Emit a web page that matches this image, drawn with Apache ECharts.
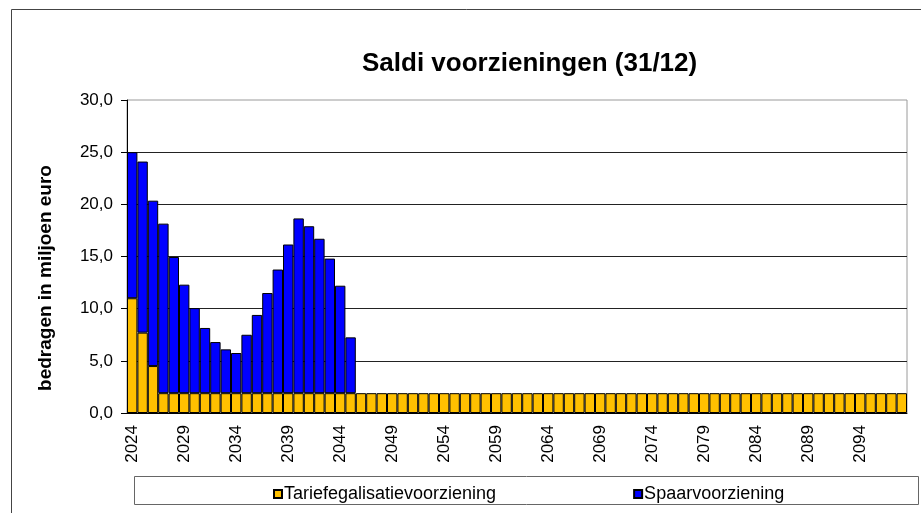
<!DOCTYPE html>
<html>
<head>
<meta charset="utf-8">
<title>Saldi voorzieningen</title>
<script src="https://cdn.jsdelivr.net/npm/echarts@6/dist/echarts.min.js"></script>
<style>
  html, body { margin: 0; padding: 0; background: #fff; }
  #chart { width: 921px; height: 513px; }
</style>
</head>
<body>
<div id="chart"></div>
<script>
// jaren 2024 t/m 2098
var years = [];
for (var y = 2024; y <= 2098; y++) years.push(String(y));

// saldo tariefegalisatievoorziening (mln euro)
var tariefegalisatie = [
  11.0, 7.7, 4.5, 1.9, 1.9, 1.9, 1.9, 1.9, 1.9, 1.9,
  1.9, 1.9, 1.9, 1.9, 1.9, 1.9, 1.9, 1.9, 1.9, 1.9,
  1.9, 1.9, 1.9, 1.9, 1.9, 1.9, 1.9, 1.9, 1.9, 1.9,
  1.9, 1.9, 1.9, 1.9, 1.9, 1.9, 1.9, 1.9, 1.9, 1.9,
  1.9, 1.9, 1.9, 1.9, 1.9, 1.9, 1.9, 1.9, 1.9, 1.9,
  1.9, 1.9, 1.9, 1.9, 1.9, 1.9, 1.9, 1.9, 1.9, 1.9,
  1.9, 1.9, 1.9, 1.9, 1.9, 1.9, 1.9, 1.9, 1.9, 1.9,
  1.9, 1.9, 1.9, 1.9, 1.9
];

// saldo spaarvoorziening (mln euro), loopt tot en met 2045
var spaar = [
  14.0, 16.4, 15.85, 16.25, 13.05, 10.4, 8.15, 6.25, 4.9, 4.2,
  3.85, 5.6, 7.5, 9.6, 11.85, 14.25, 16.75, 16.0, 14.8, 12.9,
  10.3, 5.35
];

var font = '"Liberation Sans", Arial, sans-serif';

var chart = echarts.init(document.getElementById('chart'));
chart.setOption({
  animation: false,
  textStyle: { fontFamily: font, color: '#000' },
  title: {
    text: 'Saldi voorzieningen (31/12)',
    left: 357, top: 46,
    textStyle: { fontFamily: font, fontSize: 26, fontWeight: 'bold', color: '#000' }
  },
  grid: {
    left: 127, right: 14, top: 100, bottom: 100,
    show: true, borderColor: '#9a9a9a', borderWidth: 1
  },
  legend: {
    left: 268, top: 480,
    itemWidth: 8, itemHeight: 8, itemGap: 137,
    icon: 'rect',
    textStyle: { fontFamily: font, fontSize: 18, color: '#000', padding: [0, 0, 0, -3] },
    data: ['Tariefegalisatievoorziening', 'Spaarvoorziening']
  },
  xAxis: {
    type: 'category',
    data: years,
    boundaryGap: true,
    axisLine: { lineStyle: { color: '#000', width: 1 } },
    axisTick: { interval: 4, length: 6, lineStyle: { color: '#000' } },
    axisLabel: { interval: 4, rotate: 90, margin: 12, fontSize: 17, color: '#000', fontFamily: font }
  },
  yAxis: {
    type: 'value',
    min: 0, max: 30, interval: 5,
    axisLine: { show: true, lineStyle: { color: '#000', width: 1 } },
    axisTick: { show: true, length: 6, lineStyle: { color: '#000' } },
    axisLabel: {
      margin: 14, fontSize: 17, color: '#000', fontFamily: font,
      formatter: function (v) { return v.toFixed(1).replace('.', ','); }
    },
    splitLine: { show: true, showMaxLine: false, lineStyle: { color: '#222', width: 1 } }
  },
  series: [
    {
      name: 'Tariefegalisatievoorziening',
      type: 'bar', stack: 'saldo',
      barWidth: '100%',
      data: tariefegalisatie,
      itemStyle: { color: '#FFC000', borderColor: '#000', borderWidth: 1 }
    },
    {
      name: 'Spaarvoorziening',
      type: 'bar', stack: 'saldo',
      barWidth: '100%',
      data: spaar,
      itemStyle: { color: '#0000FF', borderColor: '#000', borderWidth: 1 }
    }
  ],
  graphic: [
    {
      type: 'rect', silent: true, z: -1,
      shape: { x: 11.5, y: 9.5, width: 1000, height: 600 },
      style: { fill: null, stroke: '#444', lineWidth: 1 }
    },
    {
      type: 'rect', silent: true, z: -1,
      shape: { x: 134.5, y: 476.5, width: 784, height: 28 },
      style: { fill: '#fff', stroke: '#666', lineWidth: 1 }
    },
    {
      type: 'text', silent: true,
      x: 46, y: 278, rotation: Math.PI / 2,
      style: {
        text: 'bedragen in miljoen euro',
        font: 'bold 19px ' + font,
        fill: '#000', align: 'center', verticalAlign: 'middle'
      }
    }
  ]
});
</script>
</body>
</html>
